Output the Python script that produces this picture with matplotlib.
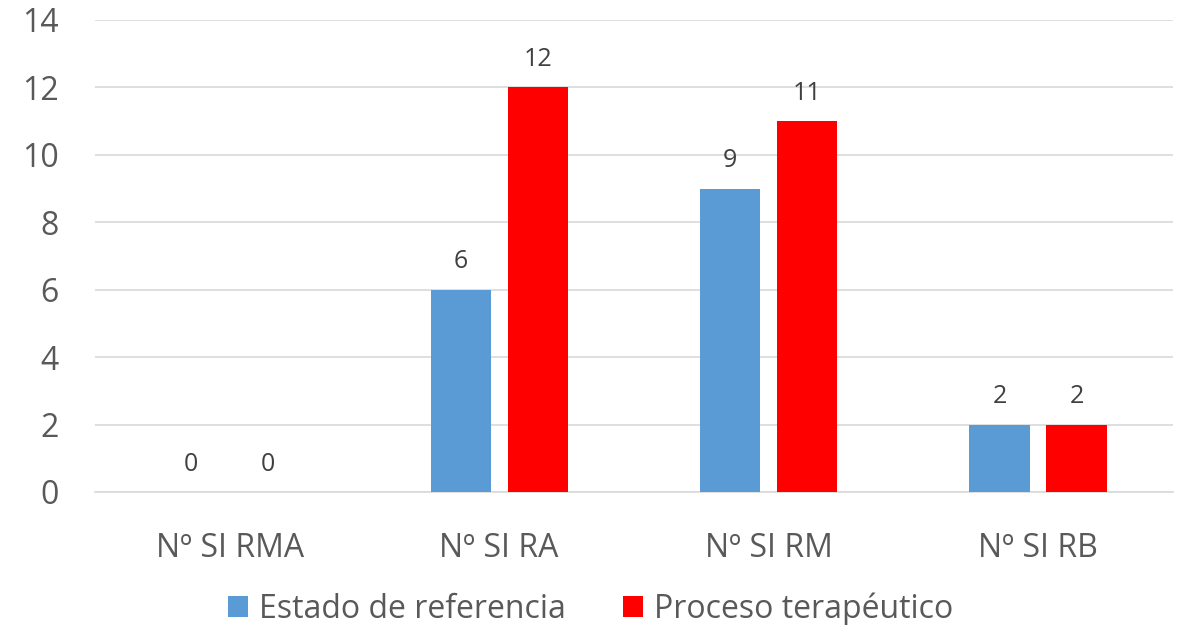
import matplotlib.pyplot as plt
import numpy as np

categories = ['Nº SI RMA', 'Nº SI RA', 'Nº SI RM', 'Nº SI RB']
estado_ref = [0, 6, 9, 2]
proceso_ter = [0, 12, 11, 2]
series_names = ['Estado de referencia', 'Proceso terapéutico']

plt.rcParams['font.family'] = ['Open Sans', 'DejaVu Sans']

fig = plt.figure(figsize=(11.81, 6.25), dpi=100)
ax = fig.add_axes([0.0804, 0.2128, 0.9126, 0.7552])

x = np.arange(len(categories))
w = 0.223
off = 0.143
b1 = ax.bar(x - off, estado_ref, w, color='#5b9bd5', label=series_names[0], zorder=3)
b2 = ax.bar(x + off, proceso_ter, w, color='#ff0000', label=series_names[1], zorder=3)

for bars, vals in ((b1, estado_ref), (b2, proceso_ter)):
    for b, v in zip(bars, vals):
        ax.annotate(str(v), (b.get_x() + b.get_width() / 2, v), xytext=(0, 11),
                    textcoords='offset points', ha='center', va='bottom',
                    fontsize=18, color='#404040')

ax.set_xlim(-0.5, len(categories) - 0.5)
ax.set_ylim(0, 14)
ax.set_yticks(range(0, 15, 2))
ax.yaxis.grid(True, color='#d9d9d9', linewidth=1.2, zorder=0)
ax.set_axisbelow(True)
for s in ['top', 'right', 'left']:
    ax.spines[s].set_visible(False)
ax.spines['bottom'].set_color('#d9d9d9')
ax.spines['bottom'].set_linewidth(1.2)
ax.tick_params(axis='both', length=0, labelsize=23, labelcolor='#595959')
ax.tick_params(axis='y', pad=26)
ax.tick_params(axis='x', pad=29)
ax.set_xticks(x)
ax.set_xticklabels(categories)

fig.legend(handles=[b1, b2], loc='center', bbox_to_anchor=(0.5, 0.026), ncol=2,
           frameon=False, fontsize=23, labelcolor='#595959', handlelength=0.62,
           handleheight=0.62, columnspacing=1.8, handletextpad=0.35)

fig.savefig('out.png', dpi=100)
